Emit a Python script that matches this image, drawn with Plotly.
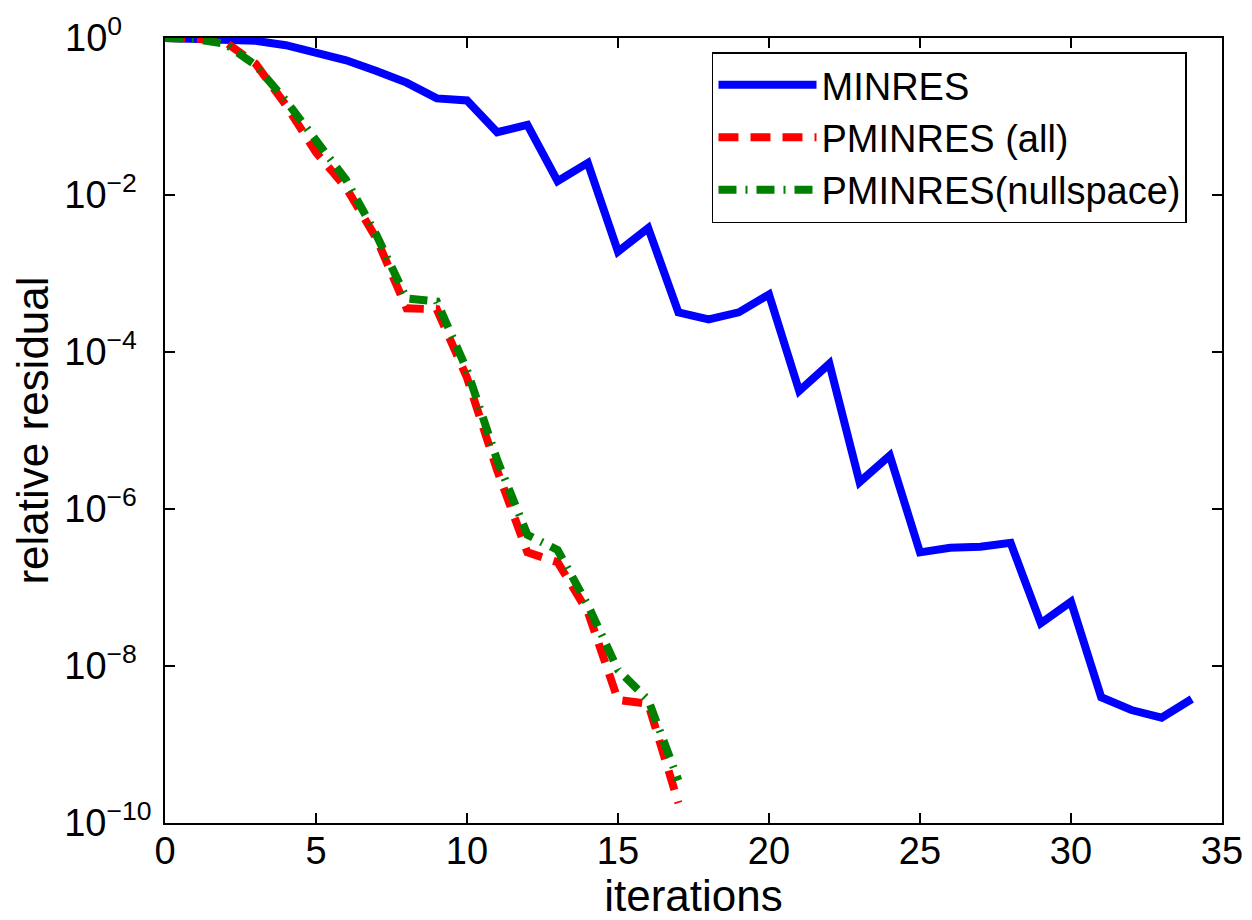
import plotly.graph_objects as go

iterations_minres = list(range(0, 35))
minres = [1.0, 0.98, 0.95, 0.92, 0.81, 0.64, 0.52, 0.38, 0.27, 0.17, 0.16,
          0.063, 0.078, 0.015, 0.0256, 0.0019, 0.0038, 3.2e-4, 2.6e-4, 3.2e-4,
          5.4e-4, 3.2e-5, 7.1e-5, 2.2e-6, 4.8e-6, 2.8e-7, 3.2e-7, 3.3e-7,
          3.7e-7, 3.5e-8, 6.6e-8, 4.0e-9, 2.75e-9, 2.2e-9, 3.8e-9]

iterations_pminres = list(range(0, 18))
pminres_all = [1.0, 0.99, 0.89, 0.47, 0.14, 0.035, 0.0123, 2.8e-3, 3.6e-4,
               3.5e-4, 4.7e-5, 3.1e-6, 2.8e-7, 2.1e-7, 4.9e-8, 3.7e-9, 3.3e-9,
               1.8e-10]
pminres_null = [1.0, 0.97, 0.84, 0.45, 0.16, 0.05, 0.0155, 3.1e-3, 4.8e-4,
                4.4e-4, 5.9e-5, 4.2e-6, 4.7e-7, 3.0e-7, 6.0e-8, 8.9e-9, 3.7e-9,
                3.5e-10]

x_ticks = [0, 5, 10, 15, 20, 25, 30, 35]
y_ticks = [1e-10, 1e-8, 1e-6, 1e-4, 1e-2, 1e0]
NB = "\u00a0"
y_ticktext = ["10<sup>\u221210</sup>",
              "10<sup>\u22128" + NB * 2 + "</sup>",
              "10<sup>\u22126" + NB * 2 + "</sup>",
              "10<sup>\u22124" + NB * 2 + "</sup>",
              "10<sup>\u22122" + NB * 2 + "</sup>",
              "10<sup>0" + NB * 4 + "</sup>"]

FONT = "Liberation Sans, Arial, Helvetica, sans-serif"

fig = go.Figure()
fig.add_trace(go.Scatter(x=iterations_minres, y=minres, mode="lines", name="MINRES",
                         line=dict(color="rgb(0,0,255)", width=8)))
fig.add_trace(go.Scatter(x=iterations_pminres, y=pminres_all, mode="lines", name="PMINRES (all)",
                         line=dict(color="rgb(255,0,0)", width=8, dash="20px,12px")))
fig.add_trace(go.Scatter(x=iterations_pminres, y=pminres_null, mode="lines", name="PMINRES(nullspace)",
                         line=dict(color="rgb(0,128,0)", width=8, dash="18px,9px,2px,9px")))

axis_common = dict(showline=True, linecolor="black", linewidth=1.5, mirror="ticks",
                   ticks="inside", ticklen=10, tickwidth=1.5, tickcolor="black",
                   showgrid=False, zeroline=False, automargin=False,
                   tickfont=dict(family=FONT, size=38, color="black"))

fig.update_xaxes(range=[0, 35], tickvals=x_ticks, ticklabelstandoff=-6,
                 title=dict(text="iterations", font=dict(family=FONT, size=44, color="black"), standoff=0),
                 **axis_common)
fig.update_yaxes(type="log", range=[-10, 0], tickvals=y_ticks, ticktext=y_ticktext,
                 ticklabelstandoff=4,
                 title=dict(text="relative residual", font=dict(family=FONT, size=44, color="black"), standoff=4),
                 **axis_common)

fig.update_layout(
    width=1244, height=912,
    margin=dict(l=157, r=30, t=30, b=97),
    paper_bgcolor="white", plot_bgcolor="white",
    showlegend=True,
    legend=dict(x=0.5175, y=0.982, xanchor="left", yanchor="top",
                bgcolor="white", bordercolor="black", borderwidth=1.5,
                font=dict(family=FONT, size=38, color="black"),
                itemwidth=98, tracegroupgap=0),
)

fig.write_html("out.html")
